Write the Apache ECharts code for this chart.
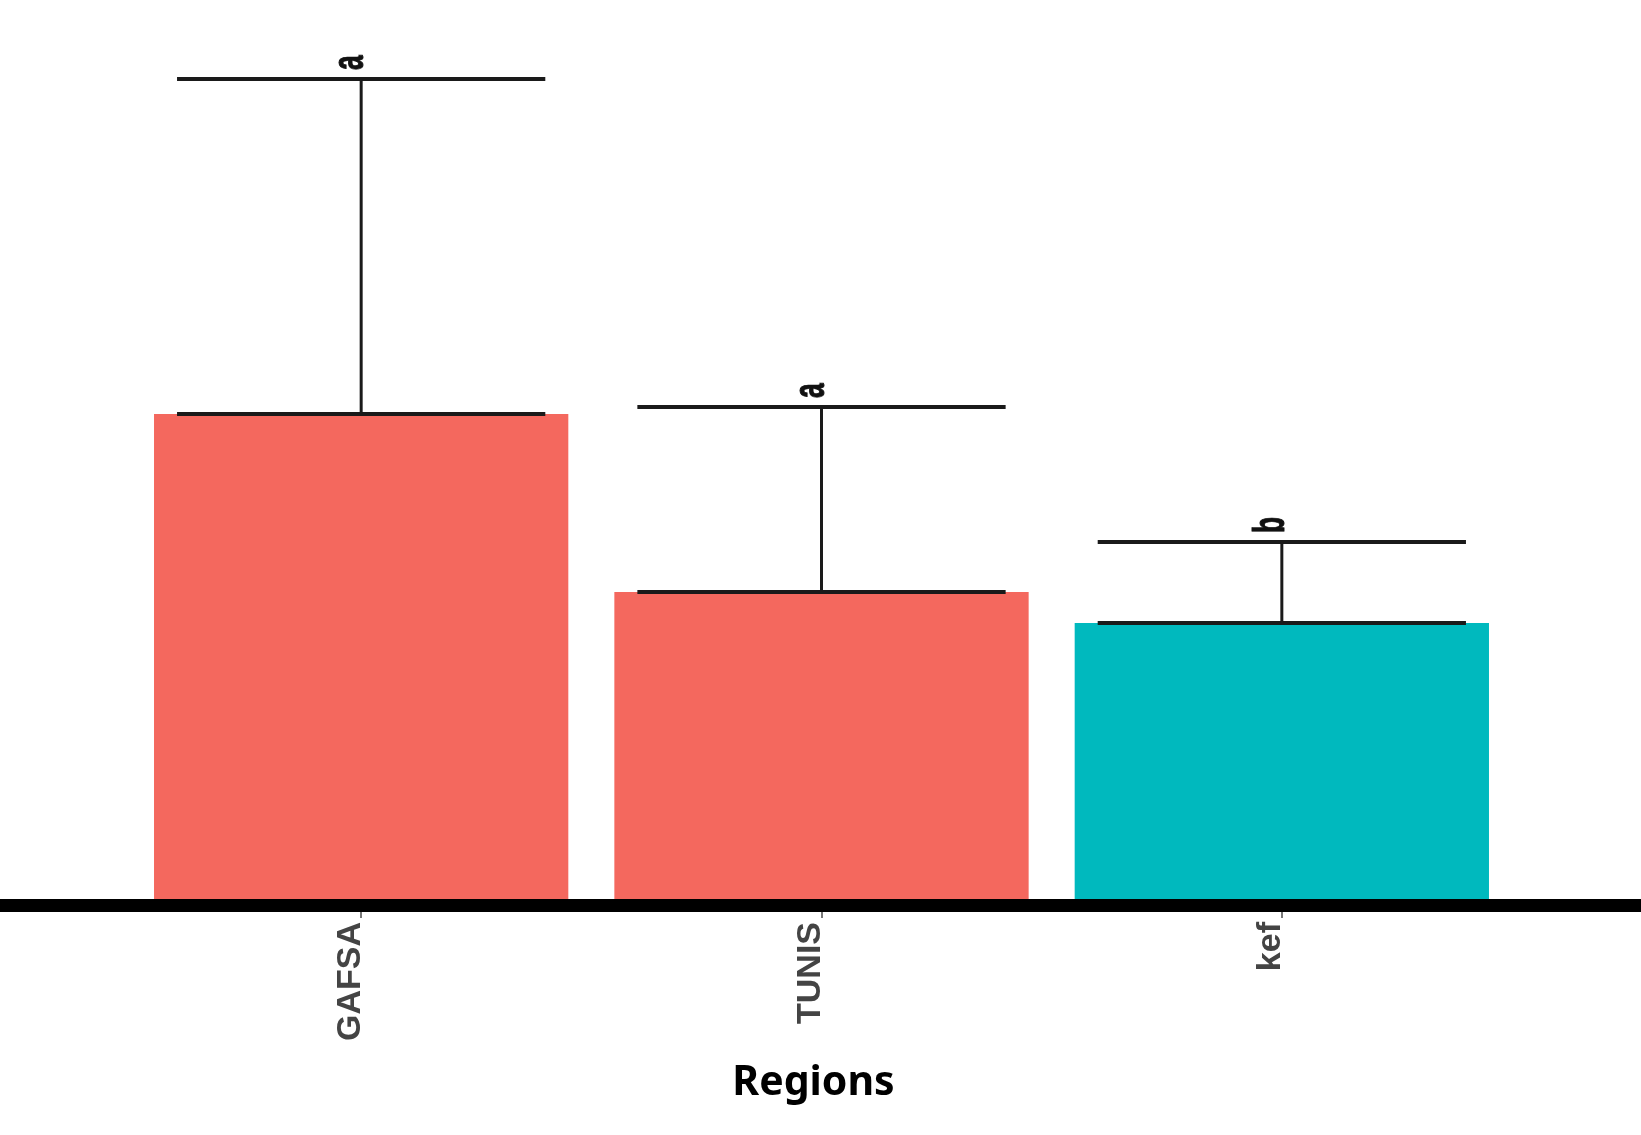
<!DOCTYPE html>
<html lang="en">
<head>
    <meta charset="UTF-8"/>
    <script src="https://cdn.jsdelivr.net/npm/echarts@6/dist/echarts.min.js"></script>
    <title>Regions</title>
    <style>
        html, body { margin: 0; padding: 0; background: #fff; }
    </style>
</head>
<body>
<div id="main" style="width:1641px; height:1135px;"></div>
<script type="text/javascript">
    // data (arbitrary units, no y axis shown)
    var categories = ['GAFSA', 'TUNIS', 'kef'];
    var means = [4.85, 3.07, 2.76];
    var upper = [8.20, 4.92, 3.57];
    var letters = ['a', 'a', 'b'];
    var barColors = ['#F4685E', '#F4685E', '#00B9BE'];

    var myChart = echarts.init(document.getElementById('main'));

    var barData = means.map(function (v, i) {
        return { value: v, itemStyle: { color: barColors[i] } };
    });
    var errData = means.map(function (v, i) {
        return [i, v, upper[i]];
    });

    function renderError(params, api) {
        var i = api.value(0);
        var lo = api.coord([i, api.value(1)]);
        var hi = api.coord([i, api.value(2)]);
        var half = api.size([1, 0])[0] * 0.4;
        var ink = '#1a1a1a';
        return {
            type: 'group',
            children: [
                { type: 'line', shape: { x1: lo[0] - half, y1: lo[1], x2: lo[0] + half, y2: lo[1] },
                  style: { stroke: ink, lineWidth: 4 } },
                { type: 'line', shape: { x1: hi[0] - half, y1: hi[1], x2: hi[0] + half, y2: hi[1] },
                  style: { stroke: ink, lineWidth: 4 } },
                { type: 'line', shape: { x1: lo[0], y1: lo[1], x2: hi[0], y2: hi[1] },
                  style: { stroke: ink, lineWidth: 3 } },
                { type: 'text', x: hi[0] + 12, y: hi[1] - 9, rotation: Math.PI / 2, scaleX: 0.6,
                  style: { text: letters[i], fill: '#111', align: 'left', verticalAlign: 'bottom',
                           stroke: '#111', lineWidth: 1,
                           font: 'bold 44px "Liberation Sans", Arial, sans-serif' } }
            ]
        };
    }

    var option = {
        animation: false,
        backgroundColor: '#fff',
        grid: { left: 131, right: 129, top: 0, bottom: 236 },
        xAxis: {
            type: 'category',
            data: categories,
            axisLine: { show: false },
            axisTick: { show: true, alignWithLabel: true, length: 19, lineStyle: { color: '#777', width: 2 } },
            axisLabel: {
                rotate: 90,
                margin: 23,
                verticalAlign: 'bottom',
                lineHeight: 22,
                color: '#444',
                fontSize: 34,
                fontWeight: 'bold',
                fontFamily: '"Liberation Sans", Arial, sans-serif'
            },
            name: 'Regions',
            nameLocation: 'middle',
            nameGap: 164,
            nameTextStyle: {
                color: '#000',
                fontSize: 41,
                fontWeight: 'bold',
                fontFamily: '"Noto Sans", sans-serif',
                padding: [0, 16, 0, 0]
            }
        },
        yAxis: {
            type: 'value',
            min: 0,
            max: 8.99,
            show: false,
            splitLine: { show: false }
        },
        series: [
            {
                type: 'bar',
                data: barData,
                barCategoryGap: '10%',
                z: 2
            },
            {
                type: 'custom',
                data: errData,
                encode: { x: 0, y: [1, 2] },
                renderItem: renderError,
                z: 3
            }
        ],
        graphic: [
            { type: 'rect', left: 0, top: 899, z: 100,
              shape: { width: 1641, height: 13 }, style: { fill: '#000' } }
        ]
    };

    myChart.setOption(option);
</script>
</body>
</html>
